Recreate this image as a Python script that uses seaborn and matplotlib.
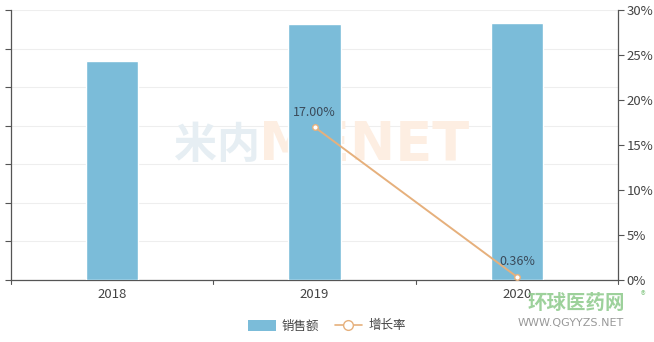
import matplotlib
matplotlib.use("Agg")
import matplotlib.pyplot as plt
import seaborn as sns
import pandas as pd
import numpy as np
from matplotlib.patches import FancyBboxPatch
from matplotlib.lines import Line2D
from matplotlib.ticker import FuncFormatter, MultipleLocator

years = ["2018", "2019", "2020"]
sales = [5.68, 6.64, 6.664]
growth = [np.nan, 0.17, 0.0036]
growth_labels = ["", "17.00%", "0.36%"]

sns.set_theme(style="white")
plt.rcParams['font.family'] = ['Noto Sans CJK SC', 'DejaVu Sans']

bar_color = "#7BBCD9"
line_color = "#E6B07C"
axis_color = "#555555"
text_color = "#444444"

fig = plt.figure(figsize=(6.54, 3.42), dpi=100)
ax = fig.add_axes([11/654, 62/342, 607/654, 270/342])

df = pd.DataFrame({"year": years, "sales": sales, "growth": growth})

sns.barplot(data=df, x="year", y="sales", color=bar_color, width=0.26,
            saturation=1, ax=ax, zorder=3)
ax.set_ylim(0, 7)
ax.set_xlim(-0.5, 2.5)
ax.yaxis.set_major_locator(MultipleLocator(1))
ax.set_yticklabels([])
ax.grid(axis="y", color="#EEEEEE", linewidth=0.8, zorder=0)
ax.set_axisbelow(True)
ax.set_xlabel("")
ax.set_ylabel("")
ax.tick_params(axis="y", which="both", left=True, length=4, color=axis_color, width=0.8)
ax.set_xticks([0, 1, 2])
ax.set_xticklabels(years, color=text_color, fontsize=9.5)
ax.tick_params(axis="x", length=0, pad=6)
for b in [-0.5, 0.5, 1.5, 2.5]:
    ax.plot([b, b], [0, -0.1], color=axis_color, lw=0.8, clip_on=False, zorder=3)
ax.spines["top"].set_visible(False)
ax.spines["right"].set_visible(False)
for s in ["left", "bottom"]:
    ax.spines[s].set_color(axis_color)
    ax.spines[s].set_linewidth(0.9)

# watermark behind bars
ax.text(174/654, 1 - 145/342, "米内", fontsize=31, fontweight="bold",
        color="#E6EEF3", va="center", ha="left", zorder=1, transform=fig.transFigure)
ax.text(259/654, 1 - 145/342, "MENET", fontsize=39, fontweight="bold",
        color="#FDEEE2", va="center", ha="left", zorder=1, family="DejaVu Sans",
        transform=fig.transFigure)

ax2 = ax.twinx()
sns.lineplot(data=df, x="year", y="growth", color=line_color, lw=1.4, ax=ax2,
             marker="o", markersize=4, markerfacecolor="white",
             markeredgecolor=line_color, markeredgewidth=1, zorder=4)
ax2.set_ylim(0, 0.30)
ax2.yaxis.set_major_locator(MultipleLocator(0.05))
ax2.yaxis.set_major_formatter(FuncFormatter(lambda v, p: f"{v*100:.0f}%"))
ax2.tick_params(axis="y", right=True, length=4, color=axis_color, width=0.8,
                labelcolor=text_color, labelsize=9.5, pad=2)
ax2.set_ylabel("")
ax2.set_xlabel("")
ax2.grid(False)
for s in ["top", "left", "bottom"]:
    ax2.spines[s].set_visible(False)
ax2.spines["right"].set_color(axis_color)
ax2.spines["right"].set_linewidth(0.9)
ax2.set_xlim(-0.5, 2.5)

for i, (g, lab) in enumerate(zip(growth, growth_labels)):
    if lab:
        ax2.annotate(lab, (i, g), xytext=(0, 6), textcoords="offset points",
                     ha="center", va="bottom", fontsize=9, color="#3A4A5A", zorder=5)

# bottom-right watermark
fig.text(528/654, 1 - 303/342, "环球医药网", fontsize=14, fontweight="bold",
         color="#8CC98A", alpha=0.85, va="center", ha="left")
fig.text(641/654, 1 - 296/342, "®", fontsize=7, color="#8CC98A", va="center", ha="left")
fig.text(518/654, 1 - 323/342, "WWW.QGYYZS.NET", fontsize=8, color="#999999",
         va="center", ha="left", family="DejaVu Sans")

# legend
handles = [
    FancyBboxPatch((0, 0), 1, 1, boxstyle="round,pad=0.1", facecolor=bar_color, edgecolor="none"),
    Line2D([0], [0], color=line_color, lw=1.2, marker="o", markersize=7,
           markerfacecolor="white", markeredgecolor=line_color),
]
fig.legend(handles, ["销售额", "增长率"], loc="center", bbox_to_anchor=(0.5, 1 - 326/342),
           ncol=2, frameon=False, fontsize=9, labelcolor=text_color,
           handlelength=2.2, handleheight=1.0, columnspacing=1.2, handletextpad=0.5)

fig.savefig("out.png", dpi=100)
